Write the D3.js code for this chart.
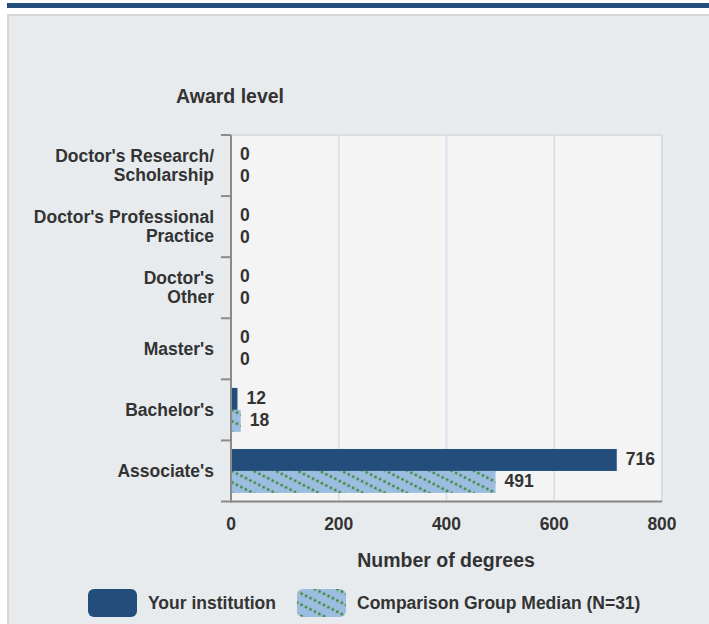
<!DOCTYPE html>
<html>
<head>
<meta charset="utf-8">
<script src="https://cdn.jsdelivr.net/npm/d3@7"></script>
<style>
  body { margin: 0; background: #fff; }
  svg text { font-family: "Liberation Sans", Arial, sans-serif; font-weight: bold; fill: #333; }
</style>
</head>
<body>
<div id="chart"></div>
<script>
// award levels, top to bottom
var categories = [
  ["Doctor's Research/", "Scholarship"],
  ["Doctor's Professional", "Practice"],
  ["Doctor's", "Other"],
  ["Master's"],
  ["Bachelor's"],
  ["Associate's"]
];
var institution = [0, 0, 0, 0, 12, 716];
var comparison = [0, 0, 0, 0, 18, 491];
var xTicks = [0, 200, 400, 600, 800];
var seriesNames = ["Your institution", "Comparison Group Median (N=31)"];

var W = 709, H = 624;
var plot = {left: 231, right: 662, top: 135, bottom: 501.5};

var svg = d3.select("#chart").append("svg")
  .attr("width", W)
  .attr("height", H);

var defs = svg.append("defs");
var pat = defs.append("pattern")
  .attr("id", "hatch")
  .attr("patternUnits", "userSpaceOnUse")
  .attr("width", 10).attr("height", 10)
  .attr("patternTransform", "rotate(27)");
pat.append("rect").attr("width", 10).attr("height", 10).attr("fill", "#9dbde0");
pat.append("line")
  .attr("x1", 0).attr("y1", 2).attr("x2", 10).attr("y2", 2)
  .attr("stroke", "#3f8a3a").attr("stroke-width", 2.6)
  .attr("stroke-dasharray", "2.5,2.5");

// top strip + panel
svg.append("rect").attr("x", 7).attr("y", 3).attr("width", W - 7).attr("height", 5).attr("fill", "#234e7b");
svg.append("rect").attr("x", 8).attr("y", 15).attr("width", W).attr("height", H)
  .attr("fill", "#e7ebee").attr("stroke", "#d6d6d6").attr("stroke-width", 2);

var x = d3.scaleLinear().domain([0, 800]).range([plot.left, plot.right]);
var y = d3.scaleBand().domain(d3.range(categories.length)).range([plot.top, plot.bottom]);
var inner = d3.scaleBand().domain([0, 1]).range([0, y.bandwidth()]).paddingOuter(0.39).paddingInner(0);

// plot background
svg.append("rect")
  .attr("x", plot.left).attr("y", plot.top)
  .attr("width", plot.right - plot.left).attr("height", plot.bottom - plot.top)
  .attr("fill", "#f4f4f4").attr("stroke", "#dcdcdc").attr("stroke-width", 2);

// grid
svg.append("g").selectAll("line")
  .data(xTicks.slice(1, -1)).enter().append("line")
  .attr("x1", d => x(d)).attr("x2", d => x(d))
  .attr("y1", plot.top).attr("y2", plot.bottom)
  .attr("stroke", "#d9e1ea").attr("stroke-width", 2);

// bars
var rows = categories.map(function(c, i) { return {i: i, vals: [institution[i], comparison[i]]}; });
var g = svg.append("g").selectAll("g").data(rows).enter().append("g")
  .attr("transform", d => "translate(0," + y(d.i) + ")");

g.selectAll("rect").data(d => d.vals).enter().append("rect")
  .attr("x", x(0))
  .attr("y", (d, j) => inner(j))
  .attr("width", d => x(d) - x(0))
  .attr("height", inner.bandwidth())
  .attr("fill", (d, j) => j == 0 ? "#234e7b" : "url(#hatch)");

g.selectAll("text").data(d => d.vals).enter().append("text")
  .attr("x", d => x(d) + 9)
  .attr("y", (d, j) => inner(j) + inner.bandwidth() / 2 - 1)
  .attr("dy", "0.35em")
  .style("font-size", "17.5px")
  .text(d => d);

// axes
svg.append("line")
  .attr("x1", plot.left).attr("x2", plot.left)
  .attr("y1", plot.top).attr("y2", plot.bottom + 1)
  .attr("stroke", "#8a8a8a").attr("stroke-width", 2);
svg.append("line")
  .attr("x1", plot.left - 10).attr("x2", plot.right)
  .attr("y1", plot.bottom).attr("y2", plot.bottom)
  .attr("stroke", "#8a8a8a").attr("stroke-width", 2);
svg.append("g").selectAll("line")
  .data(d3.range(categories.length)).enter().append("line")
  .attr("x1", plot.left - 10).attr("x2", plot.left)
  .attr("y1", d => y(d)).attr("y2", d => y(d))
  .attr("stroke", "#8a8a8a").attr("stroke-width", 2);

// category labels
var lab = svg.append("g").selectAll("text").data(categories).enter().append("text")
  .attr("text-anchor", "end")
  .style("font-size", "17.5px");
lab.selectAll("tspan").data((d, i) => d.map(function(s, k) { return {s: s, k: k, n: d.length, i: i}; }))
  .enter().append("tspan")
  .attr("x", 214)
  .attr("y", d => y(d.i) + y.bandwidth() / 2 + (d.k - (d.n - 1) / 2) * 19 + 6)
  .text(d => d.s);

// x tick labels
svg.append("g").selectAll("text").data(xTicks).enter().append("text")
  .attr("x", d => x(d)).attr("y", 524).attr("dy", "0.35em")
  .attr("text-anchor", "middle")
  .style("font-size", "17.5px")
  .text(d => d);

// titles
svg.append("text").attr("x", 230).attr("y", 96).attr("dy", "0.35em")
  .attr("text-anchor", "middle").style("font-size", "19.5px").text("Award level");
svg.append("text").attr("x", 446).attr("y", 560).attr("dy", "0.35em")
  .attr("text-anchor", "middle").style("font-size", "19.5px").text("Number of degrees");

// legend
var legX = [88, 297];
var leg = svg.append("g").selectAll("g").data(seriesNames).enter().append("g")
  .attr("transform", (d, i) => "translate(" + legX[i] + ",589)");
leg.append("rect")
  .attr("width", 49).attr("height", 28).attr("rx", 6)
  .attr("fill", (d, i) => i == 0 ? "#234e7b" : "url(#hatch)");
leg.append("text")
  .attr("x", 60).attr("y", 14).attr("dy", "0.35em")
  .style("font-size", "17.5px")
  .text(d => d);
</script>
</body>
</html>
